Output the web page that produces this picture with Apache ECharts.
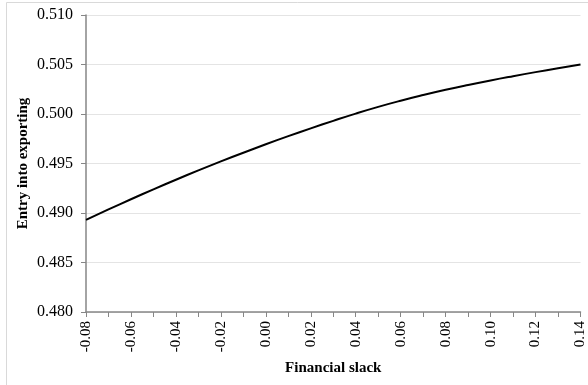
<!DOCTYPE html>
<html>
<head>
<meta charset="utf-8">
<script src="https://cdn.jsdelivr.net/npm/echarts@6/dist/echarts.min.js"></script>
<style>
  html, body { margin: 0; padding: 0; background: #fff; }
  #chart { width: 588px; height: 385px; }
</style>
</head>
<body>
<div id="chart"></div>
<script>
// Predicted probability of entry into exporting across financial slack
const slack = [-0.08, -0.07, -0.06, -0.05, -0.04, -0.03, -0.02, -0.01, 0.00, 0.01, 0.02,
               0.03, 0.04, 0.05, 0.06, 0.07, 0.08, 0.09, 0.10, 0.11, 0.12, 0.13, 0.14];
const entry = [0.48930, 0.49036, 0.49139, 0.49239, 0.49336, 0.49430, 0.49521, 0.49609,
               0.49694, 0.49776, 0.49855, 0.49931, 0.50004, 0.50072, 0.50134, 0.50191,
               0.50244, 0.50293, 0.50339, 0.50382, 0.50423, 0.50462, 0.50499];

const xTitle = 'Financial slack';
const yTitle = 'Entry into exporting';

const points = slack.map((x, i) => [x, entry[i]]);
const serif = '"Liberation Serif", "DejaVu Serif", serif';

const chart = echarts.init(document.getElementById('chart'), null, { renderer: 'canvas' });
chart.setOption({
  animation: false,
  backgroundColor: '#fff',
  graphic: [{
    type: 'rect',
    shape: { x: 6.5, y: 2.5, width: 620, height: 420 },
    style: { fill: 'none', stroke: '#d9d9d9', lineWidth: 1 },
    silent: true
  }],
  grid: { left: 86, right: 3, top: 15, bottom: 73, containLabel: false },
  xAxis: {
    type: 'value',
    min: -0.08,
    max: 0.14,
    interval: 0.02,
    name: xTitle,
    nameLocation: 'middle',
    nameGap: 41,
    nameTextStyle: { fontFamily: serif, fontSize: 15, fontWeight: 'bold', color: '#000' },
    axisLine: { show: true, onZero: false, lineStyle: { color: '#868686', width: 1.5 } },
    axisTick: { show: true, length: 5, lineStyle: { color: '#868686' } },
    minorTick: { show: true, splitNumber: 2, length: 5, lineStyle: { color: '#868686' } },
    splitLine: { show: false },
    axisLabel: {
      rotate: 90,
      margin: 9,
      fontFamily: serif,
      fontSize: 15,
      color: '#000',
      formatter: v => (Math.abs(v) < 1e-9 ? 0 : v).toFixed(2)
    }
  },
  yAxis: {
    type: 'value',
    min: 0.48,
    max: 0.51,
    interval: 0.005,
    name: yTitle,
    nameLocation: 'middle',
    nameGap: 55,
    nameMoveOverlap: false,
    nameTextStyle: { fontFamily: serif, fontSize: 15, fontWeight: 'bold', color: '#000' },
    axisLine: { show: true, onZero: false, lineStyle: { color: '#868686', width: 1.5 } },
    axisTick: { show: true, length: 5, lineStyle: { color: '#868686' } },
    splitLine: { show: true, lineStyle: { color: '#e4e4e4', width: 1 } },
    axisLabel: {
      margin: 13,
      fontFamily: serif,
      fontSize: 16,
      color: '#000',
      formatter: v => v.toFixed(3)
    }
  },
  series: [{
    type: 'line',
    data: points,
    smooth: true,
    showSymbol: false,
    lineStyle: { color: '#000', width: 2 }
  }]
});
</script>
</body>
</html>
